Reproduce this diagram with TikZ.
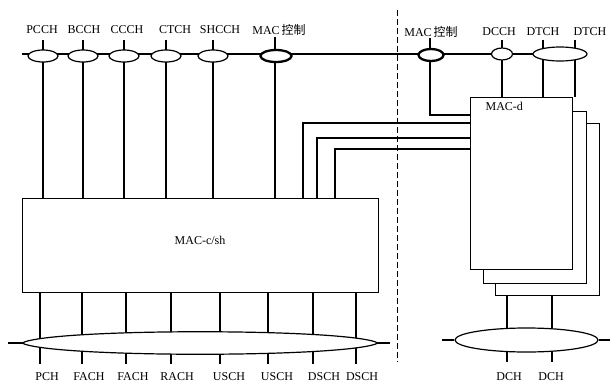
\documentclass[tikz,border=0pt]{standalone}
\usepackage{fontspec}
\setmainfont{Liberation Serif}
\newfontfamily\cjk{Noto Sans CJK SC}
\usetikzlibrary{shapes.geometric}
\begin{document}
\begin{tikzpicture}[x=1pt,y=-1pt, line width=1.2pt,
  lbl/.style={font=\fontsize{12}{13}\selectfont, inner sep=0pt},
  ell/.style={draw, fill=white, ellipse, inner sep=0pt},
  thickell/.style={ell, line width=2.3pt},
  box/.style={draw, fill=white, inner sep=0pt, anchor=north west},
  divider/.style={line width=1pt, dash pattern=on 6pt off 3pt}]
\useasboundingbox[fill=white] (0,0) rectangle (610,383);

% ---------- boxes ----------
\node[box, minimum width=356pt, minimum height=94pt] (csh) at (22,198) {};
\node[lbl] (cshlbl) at (200,240) {MAC-c/sh};

\node[box, minimum width=104pt, minimum height=172pt] (macd3) at (495,123) {};
\node[box, minimum width=103pt, minimum height=172pt] (macd2) at (483,111) {};
\node[box, minimum width=102pt, minimum height=172pt] (macd) at (470,97) {};
\node[lbl, anchor=west] (macdlbl) at (485,106) {MAC-d};

% ---------- divider ----------
\coordinate (dtop) at (397,10);
\coordinate (dbot) at (397,362);
\draw[divider] (dtop) -- (dbot);

% ---------- top logical channel line ----------
\coordinate (topstart) at (22,54);
\coordinate (topend) at (560,54);
\draw (topstart) -- (topend);

% left logical channels
\foreach \n/\x/\lx/\t in {pcch/43/42/PCCH, bcch/83/84/BCCH, ccch/124/127/CCCH, ctch/166/175/CTCH, shcch/213/220/SHCCH} {
  \node[lbl] (l\n) at (\lx,30) {\t};
  \coordinate (t\n) at (\x,40);
  \draw (t\n) -- (t\n |- csh.north);
  \node[ell, minimum width=30pt, minimum height=12pt] (\n) at (\x,56) {};
}
% left MAC control
\node[lbl] (lmac1) at (279,30) {MAC\,{\cjk 控制}};
\coordinate (tmac1) at (275,37);
\draw[line width=1.8pt] (tmac1) -- (tmac1 |- csh.north);
\node[thickell, minimum width=31pt, minimum height=12pt] (mac1) at (276,56) {};

% right MAC control
\node[lbl] (lmac2) at (431,32) {MAC\,{\cjk 控制}};
\coordinate (tmac2) at (430,38);
\coordinate (mac2turn) at (430,115);
\draw[line width=1.8pt] (tmac2) -- (430,50);
\draw (430,56) -- (mac2turn) -- (mac2turn -| macd.west);
\node[thickell, minimum width=25pt, minimum height=12pt] (mac2) at (431,55) {};

% DCCH / DTCH
\node[lbl] (ldcch) at (499,32) {DCCH};
\node[lbl] (ldtch1) at (543,32) {DTCH};
\node[lbl] (ldtch2) at (590,32) {DTCH};
\foreach \n/\x in {dcch/502, dtcha/543, dtchb/575} {
  \coordinate (t\n) at (\x,40);
  \draw (t\n) -- (t\n |- macd.north);
}
\node[ell, minimum width=21pt, minimum height=12pt] (dcch) at (502,54) {};
\node[ell, minimum width=54pt, minimum height=14pt] (dtch) at (560,54) {};
\draw (tdtcha) -- (543,48);
\draw (tdtchb) -- (575,48);

% ---------- MAC-c/sh to MAC-d ----------
\foreach \x/\y in {303/123, 317/138, 335/149} {
  \coordinate (c\x) at (\x,\y);
  \draw (c\x |- csh.north) -- (c\x) -- (c\x -| macd.west);
}

% ---------- bottom left transport channels ----------
\foreach \n/\x/\lx/\t in {pch/40/47/PCH, facha/82/89/FACH, fachb/126/133/FACH, rach/171/177/RACH, uscha/220/229/USCH, uschb/268/277/USCH, dscha/313/324/DSCH, dschb/356/362/DSCH} {
  \coordinate (b\n) at (\x,364);
  \draw (b\n |- csh.south) -- (b\n);
  \node[lbl] (l\n) at (\lx,377) {\t};
}
\coordinate (lensL) at (22,343);
\coordinate (lensR) at (378,343);
\draw[fill=white] (lensL) .. controls (50,328) and (350,328) .. (lensR)
                          .. controls (350,358) and (50,358) .. (lensL) -- cycle;
\coordinate (stubL) at (8,343);
\coordinate (stubR) at (390,343);
\draw (stubL) -- (lensL);
\draw (lensR) -- (stubR);

% ---------- bottom right transport channels ----------
\foreach \n/\x/\lx in {dcha/507/509, dchb/552/551} {
  \coordinate (b\n) at (\x,362);
  \draw (b\n |- macd3.south) -- (b\n);
  \node[lbl] (l\n) at (\lx,377) {DCH};
}
\node[ell, minimum width=143pt, minimum height=24pt] (dchell) at (526.5,340) {};
\coordinate (rstubL) at (442,340);
\coordinate (rstubR) at (610,340);
\draw (rstubL) -- (dchell.west);
\draw (dchell.east) -- (rstubR);
\end{tikzpicture}
\end{document}
